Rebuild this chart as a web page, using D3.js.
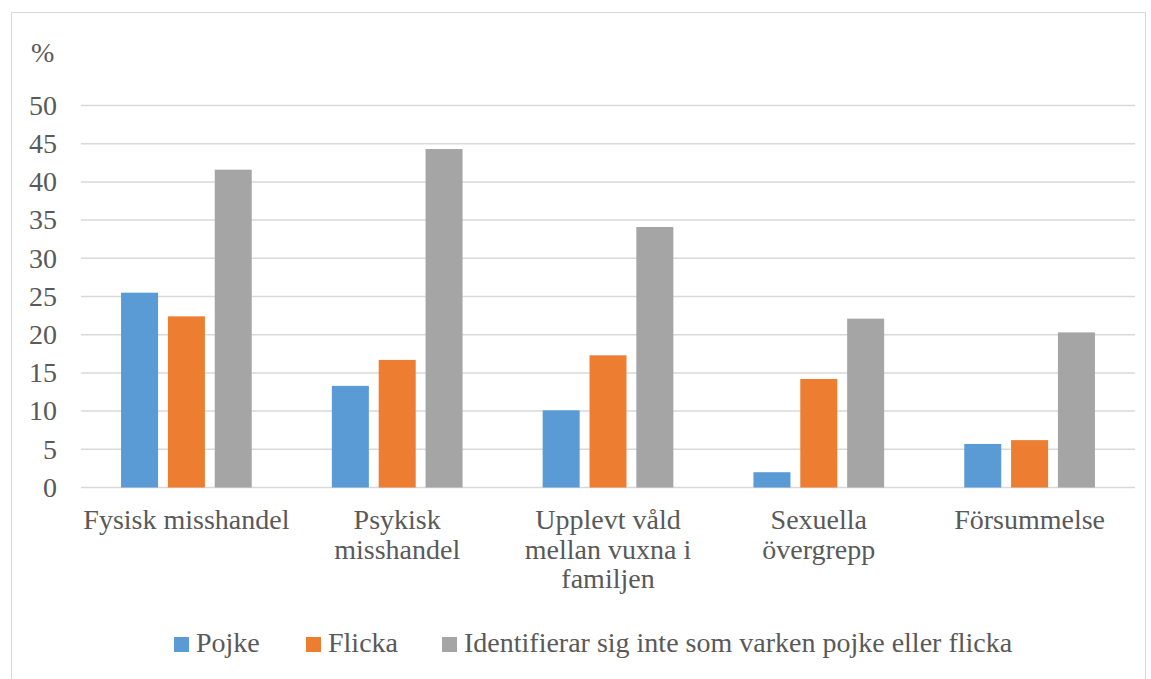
<!DOCTYPE html>
<html>
<head>
<meta charset="utf-8">
<script src="https://cdn.jsdelivr.net/npm/d3@7"></script>
<style>
    body { margin: 0; background: #fff; }
</style>
</head>
<body>
<svg id="chart"></svg>
<script>
var categories = ['Fysisk misshandel', 'Psykisk misshandel', 'Upplevt våld mellan vuxna i familjen', 'Sexuella övergrepp', 'Försummelse'];
var categoryLines = [
    ['Fysisk misshandel'],
    ['Psykisk', 'misshandel'],
    ['Upplevt våld', 'mellan vuxna i', 'familjen'],
    ['Sexuella', 'övergrepp'],
    ['Försummelse']
];
var seriesNames = ['Pojke', 'Flicka', 'Identifierar sig inte som varken pojke eller flicka'];
var pojke = [25.5, 13.3, 10.1, 2.0, 5.7];
var flicka = [22.4, 16.7, 17.3, 14.2, 6.2];
var identifierar = [41.6, 44.3, 34.1, 22.1, 20.3];
var yTicks = [0, 5, 10, 15, 20, 25, 30, 35, 40, 45, 50];
var colors = ['#5b9bd5', '#ed7d31', '#a5a5a5'];

var FONT = 'Liberation Serif';
var FONTSIZE = 28;
var TEXTCOLOR = '#595959';
var W = 1151, H = 679;
var MARGIN = { LEFT: 81, RIGHT: 16, TOP: 105.5, BOTTOM: 191.5 };

var svg = d3.select('#chart').attr('width', W).attr('height', H);

function styleText(sel) {
    return sel.attr('font-family', FONT)
        .attr('font-size', FONTSIZE)
        .attr('fill', TEXTCOLOR);
}

// outer border
svg.append('rect')
    .attr('x', 11.5).attr('y', 12.5)
    .attr('width', 1134).attr('height', 680)
    .attr('fill', 'none')
    .attr('stroke', '#d9d9d9');

var x0 = d3.scaleBand()
    .domain(categories)
    .range([MARGIN.LEFT, W - MARGIN.RIGHT])
    .paddingInner(0.38)
    .paddingOuter(0.19);

var x1 = d3.scaleBand()
    .domain(seriesNames)
    .range([0, x0.bandwidth()])
    .paddingInner(0.21);

var y = d3.scaleLinear()
    .domain([0, 50])
    .range([H - MARGIN.BOTTOM, MARGIN.TOP]);

// gridlines
svg.append('g')
    .selectAll('line')
    .data(yTicks)
    .enter()
    .append('line')
    .attr('x1', MARGIN.LEFT)
    .attr('x2', W - MARGIN.RIGHT)
    .attr('y1', function (d) { return y(d); })
    .attr('y2', function (d) { return y(d); })
    .attr('stroke', '#d9d9d9')
    .attr('stroke-width', 1.5);

// y tick labels
svg.append('g')
    .selectAll('text')
    .data(yTicks)
    .enter()
    .append('text')
    .call(styleText)
    .attr('x', 57)
    .attr('y', function (d) { return y(d); })
    .attr('dy', '0.33em')
    .attr('text-anchor', 'end')
    .text(function (d) { return d; });

svg.append('text')
    .call(styleText)
    .attr('x', 31).attr('y', 62)
    .text('%');

var seriesData = [pojke, flicka, identifierar];

var groups = svg.append('g')
    .selectAll('g')
    .data(categories)
    .enter()
    .append('g')
    .attr('transform', function (d) { return 'translate(' + x0(d) + ',0)'; });

groups.selectAll('rect')
    .data(function (d, i) {
        return seriesNames.map(function (s, j) {
            return { series: s, value: seriesData[j][i], color: colors[j] };
        });
    })
    .enter()
    .append('rect')
    .attr('x', function (d) { return x1(d.series); })
    .attr('width', x1.bandwidth())
    .attr('y', function (d) { return y(d.value); })
    .attr('height', function (d) { return y(0) - y(d.value); })
    .attr('fill', function (d) { return d.color; });

// category labels
svg.append('g')
    .selectAll('text')
    .data(categories)
    .enter()
    .append('text')
    .call(styleText)
    .attr('text-anchor', 'middle')
    .attr('transform', function (d) {
        return 'translate(' + (x0(d) + x0.bandwidth() / 2) + ',529)';
    })
    .each(function (d, i) {
        var t = d3.select(this);
        categoryLines[i].forEach(function (line, k) {
            t.append('tspan')
                .attr('x', 0)
                .attr('y', k * 29.5)
                .text(line);
        });
    });

// legend
var legendX = [174, 306, 442];
var legend = svg.append('g')
    .selectAll('g')
    .data(seriesNames)
    .enter()
    .append('g')
    .attr('transform', function (d, i) { return 'translate(' + legendX[i] + ',637)'; });

legend.append('rect')
    .attr('width', 15).attr('height', 15)
    .attr('fill', function (d, i) { return colors[i]; });

legend.append('text')
    .call(styleText)
    .attr('x', 22)
    .attr('y', 15)
    .text(function (d) { return d; });
</script>
</body>
</html>
